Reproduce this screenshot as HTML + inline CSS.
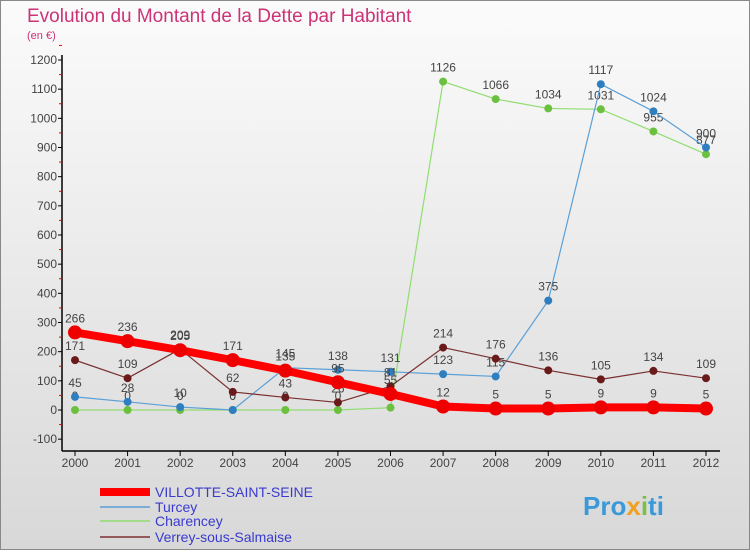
<!DOCTYPE html>
<html><head><meta charset="utf-8"><style>
body{margin:0;width:750px;height:550px;overflow:hidden;font-family:"Liberation Sans",sans-serif}
svg text{font-family:"Liberation Sans",sans-serif}
</style></head><body>
<svg id="c" width="750" height="550">
<defs><linearGradient id="bg" x1="0" y1="0" x2="0" y2="1"><stop offset="0" stop-color="#fbfbfb"/><stop offset="1" stop-color="#d8d8d8"/></linearGradient></defs>
<rect x="0.5" y="0.5" width="749" height="549" fill="url(#bg)" stroke="#888"/>
<text x="27" y="22" font-size="19" fill="#cc3377">Evolution du Montant de la Dette par Habitant</text>
<text x="27" y="39" font-size="11" fill="#cc3377">(en €)</text>
<g id="axes"></g><g id="series"></g><g id="legend"></g>
<text x="583" y="515" font-size="26" font-weight="bold" fill="#3a9ad9">Pro<tspan fill="#f0a020">x</tspan><tspan fill="#7ac143">i</tspan>ti</text>
</svg>
<script>
const years=[2000,2001,2002,2003,2004,2005,2006,2007,2008,2009,2010,2011,2012];
const yTicks=[-100,0,100,200,300,400,500,600,700,800,900,1000,1100,1200];
const villotte=[266,236,205,171,135,95,55,12,5,5,9,9,5];
const turcey=[45,28,10,0,145,138,131,123,115,375,1117,1024,900];
const charencey=[0,0,0,0,0,0,8,1126,1066,1034,1031,955,877];
const verrey=[171,109,209,62,43,26,81,214,176,136,105,134,109];
const names=["VILLOTTE-SAINT-SEINE","Turcey","Charencey","Verrey-sous-Salmaise"];
const NS="http://www.w3.org/2000/svg";
function X(i){return 75+i*(706-75)/(years.length-1);}
function Y(v){return 410-v*350/1200;}
function mk(t,a,p){const e=document.createElementNS(NS,t);for(const k in a)e.setAttribute(k,a[k]);p.appendChild(e);return e;}
const ax=document.getElementById('axes');
const yl=mk('line',{x1:62,y1:55,x2:62,y2:451,stroke:'#000','stroke-width':1.5},ax);


const xl=mk('line',{x1:62,y1:451,x2:720,y2:451,stroke:'#000','stroke-width':1.5},ax);


yTicks.forEach(v=>{
  mk('line',{x1:58,y1:Y(v),x2:62,y2:Y(v),stroke:'#000'},ax);
  mk('line',{x1:59,y1:Y(v+50),x2:62,y2:Y(v+50),stroke:'#e00'},ax);
  const t=mk('text',{x:57,y:Y(v)+4,'font-size':12,'text-anchor':'end',fill:'#444'},ax);t.textContent=v;
  
  
});
years.forEach((y,i)=>{
  mk('line',{x1:X(i),y1:451,x2:X(i),y2:456,stroke:'#000'},ax);
  const t=mk('text',{x:X(i),y:467,'font-size':12,'text-anchor':'middle',fill:'#444'},ax);t.textContent=y;
  
  
});
const sg=document.getElementById('series');
const cfg=[[villotte,'#ff0000',8,7,'#ee0000'],[turcey,'#5aa0d8',1.2,4,'#2f7fc0'],[charencey,'#90dd70',1.2,4,'#6cc040'],[verrey,'#7a3030',1.2,4,'#6a1a1a']];
const order=[2,1,3,0];
order.forEach(si=>{
  const [d,col,w,r,pc]=cfg[si];
  const g=mk('g',{},sg);
  
  
  const p=mk('polyline',{points:d.map((v,i)=>X(i)+','+Y(v)).join(' '),fill:'none',stroke:col,'stroke-width':w,'stroke-linejoin':'round'},g);
  
  
  d.forEach((v,i)=>{
    const c=mk('circle',{cx:X(i),cy:Y(v),r:r,fill:pc},g);
    
    
    const t=mk('text',{x:X(i),y:Y(v)-10,'font-size':12,'text-anchor':'middle',fill:'#444'},g);t.textContent=v;
    
    
  });
});
const lg=document.getElementById('legend');
const ly=[492,507,521,537];
names.forEach((n,i)=>{
  const g=mk('g',{},lg);
  
  
  const l=mk('line',{x1:100,y1:ly[i],x2:150,y2:ly[i],stroke:cfg[i][1],'stroke-width':i==0?8:1.5},g);
  
  
  const t=mk('text',{x:155,y:ly[i]+5,'font-size':14,fill:'#3a3ad0'},g);t.textContent=n;
  
  
});
</script>
</body></html>
